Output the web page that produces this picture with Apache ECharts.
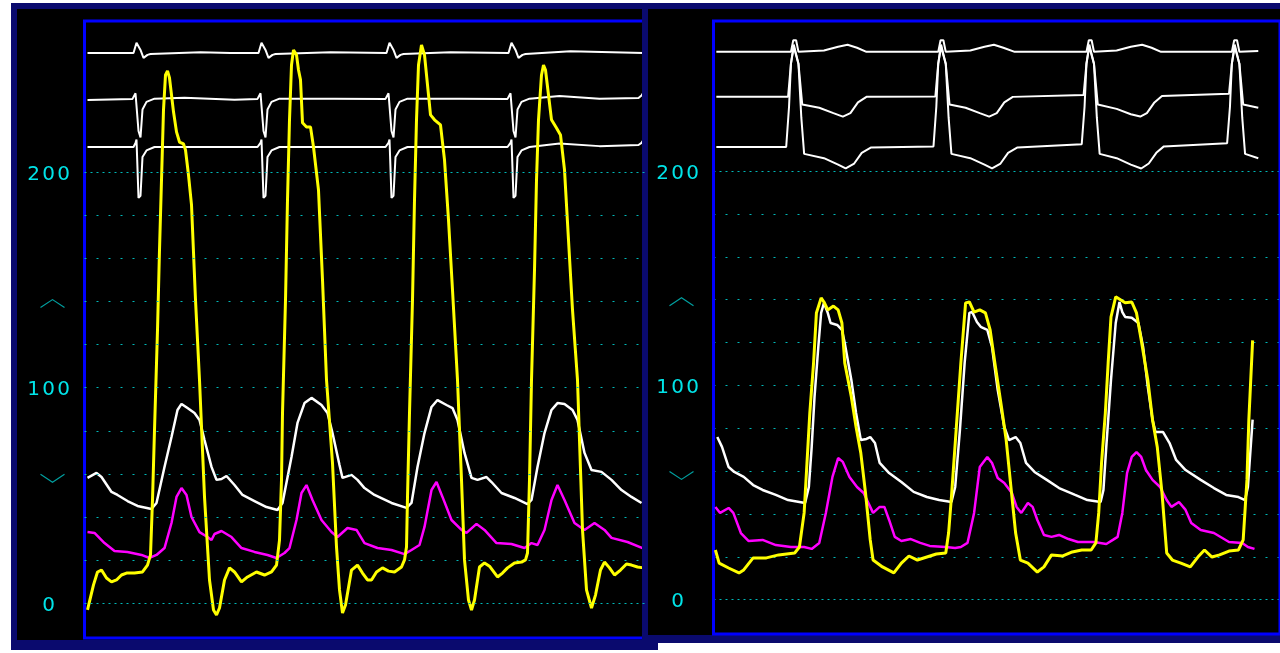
<!DOCTYPE html>
<html>
<head>
<meta charset="utf-8">
<script src="https://cdn.jsdelivr.net/npm/echarts@6/dist/echarts.min.js"></script>
<style>
  html, body { margin: 0; padding: 0; background: #ffffff; }
  #chart { width: 1280px; height: 653px; }
</style>
</head>
<body>
<div id="chart"></div>
<script>
// Pressure scale (mmHg): dotted reference levels, labelled ticks and limit markers
const gridLevels = [0, 20, 40, 60, 80, 100, 120, 140, 160, 180, 200];
const labelLevels = [0, 100, 200];
const markerLevels = [[0, 139, 1], [0, 58, -1]];   // [t, mmHg, direction]

// ---- Recording 1: [time ms, value] ----
const leftEcg1 = [[12,255.2],[196,255.2],[208,259.9],[216,260.3],[224,256.6],[236,252.9],[252,254.3],[264,254.7],[464,255.5],[584,255.2],[696,255.2],[708,259.9],[716,260.3],[724,256.6],[736,252.9],[752,254.3],[764,254.7],[984,255.5],[1208,255.2],[1220,259.9],[1228,260.3],[1236,256.6],[1248,252.9],[1264,254.3],[1276,254.7],[1464,255.5],[1696,255.2],[1708,259.9],[1716,260.3],[1724,256.6],[1736,252.9],[1752,254.3],[1764,254.7],[1944,256],[2236,255.2]];
const leftEcg2 = [[12,233.4],[192,233.9],[204,236.5],[208,237.1],[216,219],[224,216],[232,229],[248,232.5],[280,234],[400,234.4],[600,233.5],[692,233.9],[704,236.5],[708,237.1],[716,219],[724,216],[732,229],[748,232.5],[780,234],[1000,234],[1204,233.9],[1216,236.5],[1220,237.1],[1228,219],[1236,216],[1244,229],[1260,232.5],[1292,234],[1500,234],[1692,233.9],[1704,236.5],[1708,237.1],[1716,219],[1724,216],[1732,229],[1748,232.5],[1780,234],[1900,235.2],[2060,234],[2216,234.3],[2228,235.5],[2236,237]];
const leftEcg3 = [[12,211.6],[196,211.6],[204,213.5],[208,215],[216,188],[224,189],[232,207],[248,210],[280,211.6],[692,211.6],[704,213.5],[708,215],[716,188],[724,189],[732,207],[748,210],[780,211.6],[1204,211.6],[1216,213.5],[1220,215],[1228,188],[1236,189],[1244,207],[1260,210],[1292,211.6],[1692,211.6],[1704,213.5],[1708,215],[1716,188],[1724,189],[1732,207],[1748,210],[1780,211.6],[1900,213.2],[2060,212],[2216,212.5],[2228,213.5],[2236,215]];
const leftLV = [[12,-3],[36,8.6],[52,14.6],[68,15.5],[88,11.8],[108,10],[128,10.9],[148,13.2],[168,14.1],[200,14.1],[232,14.6],[252,17.8],[264,22.5],[272,48],[280,80.4],[292,126.8],[300,163.9],[308,196.3],[316,228.8],[324,245],[332,246.9],[340,243.6],[348,235.7],[356,227.9],[368,218.6],[380,213.9],[396,213],[404,210.2],[416,198.6],[428,184.8],[444,140.7],[460,103.6],[480,49.4],[500,10.9],[516,-3],[528,-5.3],[540,-2.1],[560,10.9],[580,16.5],[600,14.6],[628,10],[652,12.3],[688,14.6],[720,13.2],[748,14.6],[768,17.8],[780,29.4],[788,57.3],[792,88.3],[804,140.7],[812,187.1],[820,224.2],[828,249.6],[836,256.6],[848,254.3],[856,247.3],[864,242.7],[872,222.8],[888,220.9],[904,220.9],[916,211.6],[936,191.6],[952,150],[968,103.6],[992,65.1],[1008,26.2],[1020,6.3],[1032,-4.4],[1044,-0.7],[1068,15.5],[1092,17.8],[1112,14.1],[1132,10.9],[1148,10.9],[1168,14.6],[1192,16.5],[1216,15],[1240,14.6],[1268,16.9],[1280,20.2],[1288,26.2],[1292,49.4],[1300,88.3],[1312,140.7],[1320,187.1],[1328,224.2],[1336,249.6],[1348,258.9],[1360,254.3],[1372,240.4],[1384,226.5],[1400,224.2],[1424,221.8],[1440,205.6],[1456,177.8],[1472,145.3],[1492,103.6],[1508,57.3],[1520,20.2],[1536,1.6],[1548,-3],[1560,1.6],[1580,16.9],[1600,18.8],[1620,17.3],[1652,12.3],[1672,14.1],[1692,16.5],[1720,18.8],[1748,19.2],[1764,20.2],[1772,23.4],[1780,57.3],[1788,103.6],[1800,154.6],[1808,196.3],[1816,224.2],[1828,245],[1836,249.6],[1844,247.3],[1856,235.7],[1868,224.2],[1888,220.4],[1904,217.2],[1920,201],[1936,168.5],[1952,136.1],[1972,103.6],[1992,34.1],[2008,6.3],[2028,-2.1],[2044,3.9],[2064,15.5],[2080,19.2],[2100,16.5],[2120,13.2],[2144,15.5],[2168,18.3],[2188,17.8],[2212,16.9],[2236,16.5]];
const leftAo = [[12,58.2],[48,60.5],[68,58.6],[108,51.7],[132,50.3],[172,47.5],[212,45.2],[268,43.8],[288,46.6],[320,63.3],[348,77.2],[372,89.7],[388,92.5],[412,90.6],[440,88.3],[460,85.1],[480,75.8],[508,63.3],[528,57.3],[548,57.7],[568,59.1],[600,54.9],[632,50.3],[680,47.5],[728,44.7],[772,43.3],[792,46.6],[828,67.9],[852,83.7],[880,92.9],[908,95.3],[948,92],[972,88.3],[992,79],[1020,64.2],[1032,58.2],[1068,59.6],[1092,57.3],[1120,53.5],[1160,50.3],[1228,46.6],[1288,44.3],[1308,46.6],[1332,63.3],[1360,79],[1388,91.1],[1412,94.3],[1448,92],[1472,90.6],[1492,85.1],[1520,69.8],[1548,58.2],[1572,57.3],[1608,58.6],[1628,56.3],[1668,51.2],[1720,48.9],[1772,46.1],[1788,48],[1812,63.3],[1840,79],[1868,89.7],[1892,92.9],[1920,92.5],[1952,89.7],[1972,85.1],[2000,69.8],[2028,61.9],[2068,61],[2108,57.3],[2148,52.6],[2188,49.4],[2228,46.6]];
const leftPA = [[12,33.1],[40,32.7],[80,28],[120,24.3],[172,23.9],[228,22.5],[260,21.1],[288,22.5],[320,25.7],[348,37.3],[368,49.4],[388,53.5],[408,50.3],[428,40.1],[460,33.1],[492,30.8],[508,29.4],[520,32.2],[548,33.6],[588,30.8],[628,25.7],[680,23.9],[732,22.5],[768,21.1],[800,23.4],[820,25.7],[848,38.7],[868,51.2],[888,54.9],[912,48],[948,38.7],[988,33.1],[1012,30.8],[1052,35],[1088,34.1],[1120,28],[1172,25.7],[1228,24.8],[1280,22.9],[1308,24.8],[1340,27.1],[1360,35.5],[1388,52.6],[1408,56.3],[1432,49.4],[1468,38.7],[1508,34.1],[1528,32.7],[1568,36.9],[1600,34.1],[1648,28],[1708,27.6],[1760,25.7],[1788,28],[1812,27.1],[1840,34.1],[1868,48],[1892,54.9],[1920,48],[1960,37.3],[2000,34.1],[2040,37.3],[2080,34.1],[2108,30.4],[2172,28.5],[2232,25.7]];

// ---- Recording 2: [time ms, value] ----
const rightEcg1 = [[12,255.6],[328,255.6],[338,261],[350,261],[360,255.6],[468,256.2],[528,258],[568,258.9],[608,257.5],[648,255.6],[952,255.6],[962,261],[974,261],[984,255.6],[1088,256.2],[1148,258],[1188,258.9],[1228,257.5],[1276,255.6],[1580,255.6],[1590,261],[1602,261],[1612,255.6],[1708,256.2],[1768,258],[1816,258.9],[1856,257.5],[1896,255.6],[2196,255.6],[2206,261],[2218,261],[2228,255.6],[2308,256]];
const rightEcg2 = [[12,234.6],[316,234.6],[328,250],[340,259],[348,259],[360,250],[376,231],[448,229.5],[508,227],[548,225.4],[580,227],[612,232],[648,234.6],[940,234.8],[952,250],[964,259],[972,259],[984,250],[1000,231],[1068,229.5],[1128,227],[1168,225.4],[1200,227],[1232,232],[1268,234.6],[1568,235.5],[1580,250],[1592,259],[1600,259],[1612,250],[1628,231],[1708,229],[1768,226.5],[1808,225.4],[1836,227],[1868,232],[1900,235],[2184,236],[2196,250],[2208,259],[2216,259],[2228,250],[2244,231],[2308,229.5]];
const rightEcg3 = [[12,211.2],[308,211.2],[320,230],[328,250],[340,258],[348,258],[360,250],[372,225],[384,208],[468,206],[528,203],[560,201.2],[596,203.5],[628,208.5],[668,211],[932,211.5],[944,230],[952,250],[964,258],[972,258],[984,250],[996,225],[1008,208],[1088,206],[1148,203],[1180,201.2],[1216,203.5],[1248,208.5],[1288,211],[1560,212.5],[1572,230],[1580,250],[1592,258],[1600,258],[1612,250],[1624,225],[1636,208],[1708,206],[1768,203],[1812,201.2],[1844,203.5],[1876,208.5],[1908,211.5],[2176,213],[2188,230],[2196,250],[2208,258],[2216,258],[2228,250],[2240,225],[2252,208],[2308,206]];
const rightLV = [[8,23.2],[24,17.1],[64,14.8],[108,12.5],[128,13.9],[168,19.5],[224,19.5],[276,20.9],[344,21.8],[364,24.6],[384,40.5],[396,63.8],[408,87.1],[424,110.5],[436,133.8],[456,140.8],[468,138.9],[484,135.2],[508,137],[528,135.2],[544,129.1],[556,110.5],[584,94.6],[604,80.6],[624,68.5],[644,49.8],[664,27.9],[676,18.5],[716,15.3],[764,12.5],[796,17.1],[828,20.4],[864,18.5],[904,19.9],[944,21.3],[984,21.8],[996,31.1],[1008,47.9],[1028,79.2],[1048,110.5],[1068,138.5],[1084,138.9],[1104,134.2],[1128,135.2],[1152,133.8],[1172,125.9],[1192,110.5],[1220,89.9],[1240,74.5],[1260,52.6],[1280,31.1],[1300,18.5],[1332,17.1],[1372,12.9],[1400,15.3],[1432,20.9],[1480,20.4],[1520,22.3],[1560,23.2],[1600,23.2],[1620,26.5],[1632,40.5],[1644,63.8],[1660,87.1],[1672,110.5],[1684,131.9],[1704,141.3],[1724,139.9],[1744,138.5],[1772,138.9],[1792,133.8],[1812,121.2],[1840,102.5],[1860,83.9],[1880,71.3],[1900,49.8],[1920,21.8],[1944,18.5],[1980,17.1],[2020,15.3],[2052,19.9],[2080,23.2],[2112,19.9],[2144,20.9],[2184,22.7],[2224,23.2],[2244,27.9],[2260,55.9],[2268,83.9],[2284,121]];
const rightAo = [[16,75.9],[36,71.3],[64,61.9],[88,59.6],[128,57.3],[168,53.5],[208,51.2],[264,48.9],[316,46.5],[388,45.1],[404,52.6],[416,71.3],[428,94.6],[444,117.9],[456,133.8],[468,138.5],[484,133.8],[496,129.1],[524,128.2],[544,125.9],[556,119.8],[584,102.5],[604,87.1],[624,74.5],[648,75],[664,75.9],[684,73.1],[704,63.8],[744,59.1],[796,54.9],[848,50.3],[904,47.9],[956,46.5],[1008,45.6],[1024,52.6],[1044,79.2],[1064,110.5],[1084,133.8],[1096,134.2],[1116,129.6],[1132,127.3],[1160,125.9],[1180,117.9],[1204,97.9],[1232,80.6],[1252,74.5],[1280,75.9],[1300,73.1],[1324,63.8],[1360,59.6],[1412,55.9],[1464,52.1],[1532,48.9],[1584,46.5],[1640,45.6],[1652,51.2],[1664,71.3],[1684,102.5],[1704,129.1],[1720,138.9],[1732,134.2],[1744,131.9],[1772,131.5],[1800,129.1],[1820,117.9],[1840,99.3],[1860,83.9],[1872,78.3],[1904,78.3],[1932,73.1],[1960,65.2],[2000,60.5],[2064,55.9],[2120,52.1],[2172,48.9],[2224,47.9],[2252,46.5],[2264,52.6],[2284,84]];
const rightPA = [[8,43.3],[28,40.5],[64,42.8],[84,40.5],[116,31.1],[148,27.4],[208,27.9],[264,25.5],[328,24.6],[384,24.6],[416,23.7],[448,26.5],[476,40.5],[504,57.3],[528,66.1],[548,64.3],[576,57.3],[608,52.6],[636,49.8],[664,43.3],[676,40.5],[704,43.3],[724,43.3],[744,37.2],[768,29.3],[796,27.4],[836,28.3],[876,26.5],[916,25.1],[984,24.6],[1024,24.1],[1048,24.6],[1076,26.5],[1104,40.5],[1128,61.9],[1160,66.6],[1180,63.8],[1204,56.8],[1232,54.5],[1264,49.8],[1284,43.3],[1304,40.5],[1332,45.1],[1352,43.3],[1372,37.2],[1400,30.2],[1432,29.3],[1464,30.2],[1504,28.3],[1544,26.9],[1612,26.9],[1664,26],[1692,27.9],[1712,29.3],[1732,40.5],[1752,59.1],[1772,66.6],[1792,68.9],[1812,66.6],[1832,60.5],[1860,55.9],[1892,52.6],[1920,46.5],[1940,43.3],[1972,45.6],[2000,41.9],[2024,35.8],[2064,32.5],[2120,31.1],[2184,26.9],[2240,26.5],[2264,24.6],[2292,23.7]];

const YELLOW = '#ffff00', WHITE = '#ffffff', MAGENTA = '#ff00ff';
const LABEL_CYAN = '#00e4e8', DOT_CYAN = '#00b8b8', MARK_TEAL = '#00a0a0';
const FONT = 'DejaVu Sans';

const chart = echarts.init(document.getElementById('chart'));

function panelAxes(i, left, height, xMax, z) {
  return {
    grid: { left: left, top: 21, width: xMax / 4, height: height, show: true,
            backgroundColor: 'transparent', borderColor: '#0000ff', borderWidth: 3, z: z },
    xAxis: { gridIndex: i, type: 'value', min: 0, max: xMax, show: false },
    yAxis: {
      gridIndex: i, type: 'value', min: -16, max: 270, z: z,
      axisLine: { show: false }, axisTick: { show: false }, splitLine: { show: false },
      axisLabel: {
        customValues: labelLevels, margin: 36, align: 'center', padding: [5, 0, 0, 0],
        formatter: v => String(v).split('').map(d => '{d|' + d + '}').join(''),
        rich: { d: { width: 15, align: 'center', fontSize: 20, fontFamily: FONT, color: LABEL_CYAN } }
      }
    }
  };
}

function trace(i, data, color, width, z) {
  return { type: 'line', xAxisIndex: i, yAxisIndex: i, data: data, showSymbol: false, symbol: 'none',
           silent: true, z: z, lineStyle: { color: color, width: width }, clip: true };
}

function scaleDecor(i, z) {
  return [
    { type: 'line', xAxisIndex: i, yAxisIndex: i, data: [], silent: true, z: z,
      markLine: {
        silent: true, symbol: ['none', 'none'], label: { show: false }, animation: false,
        data: gridLevels.map(v => ({ yAxis: v, lineStyle: { color: DOT_CYAN, width: 1,
          type: (v === 0 || v === 200) ? [2, 4] : [2, 10] } }))
      } },
    { type: 'custom', xAxisIndex: i, yAxisIndex: i, data: markerLevels, silent: true, z: z,
      renderItem: (params, api) => {
        const p = api.coord([api.value(0), api.value(1)]);
        const cx = p[0] - 32, cy = p[1], dir = api.value(2);
        return { type: 'polyline',
                 shape: { points: [[cx - 12, cy + 4 * dir], [cx, cy - 4 * dir], [cx + 12, cy + 4 * dir]] },
                 style: { stroke: MARK_TEAL, lineWidth: 1.2, fill: null } };
      } }
  ];
}

const a0 = panelAxes(0, 84.5, 617, 2240, 1);
const a1 = panelAxes(1, 713.5, 613, 2400, 6);

chart.setOption({
  animation: false,
  backgroundColor: '#ffffff',
  graphic: { elements: [
    { type: 'rect', z: 0, shape: { x: 11, y: 3, width: 647, height: 647 }, style: { fill: '#0a0a6e' }, silent: true },
    { type: 'rect', z: 0, shape: { x: 17, y: 9, width: 635, height: 631 }, style: { fill: '#000000' }, silent: true },
    { type: 'rect', z: 5, shape: { x: 642, y: 3, width: 660, height: 640 }, style: { fill: '#0a0a6e' }, silent: true },
    { type: 'rect', z: 5, shape: { x: 648, y: 9, width: 660, height: 626 }, style: { fill: '#000000' }, silent: true }
  ] },
  grid: [a0.grid, a1.grid],
  xAxis: [a0.xAxis, a1.xAxis],
  yAxis: [a0.yAxis, a1.yAxis],
  series: [
    ...scaleDecor(0, 2),
    trace(0, leftEcg1, WHITE, 2, 3),
    trace(0, leftEcg2, WHITE, 2, 3),
    trace(0, leftEcg3, WHITE, 2, 3),
    trace(0, leftAo, WHITE, 2.5, 3),
    trace(0, leftPA, MAGENTA, 2.5, 3),
    trace(0, leftLV, YELLOW, 3, 4),
    ...scaleDecor(1, 7),
    trace(1, rightEcg1, WHITE, 2, 8),
    trace(1, rightEcg2, WHITE, 2, 8),
    trace(1, rightEcg3, WHITE, 2, 8),
    trace(1, rightAo, WHITE, 2.5, 8),
    trace(1, rightPA, MAGENTA, 2.5, 8),
    trace(1, rightLV, YELLOW, 3, 9)
  ]
});
</script>
</body>
</html>
